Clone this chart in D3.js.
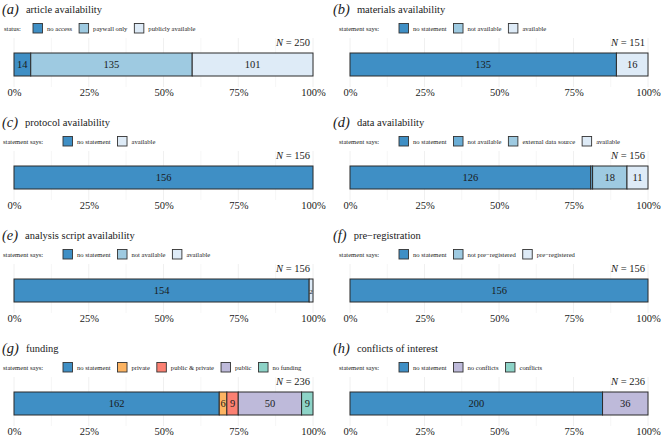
<!DOCTYPE html>
<html><head><meta charset="utf-8">
<script src="https://cdn.jsdelivr.net/npm/d3@7"></script>
<style>body{margin:0;background:#fff}svg{display:block}</style>
</head><body><svg id="c" width="662" height="436"></svg>
<script>
// ---- data ----
const panelLetters = ["a","b","c","d","e","f","g","h"];
const panelTitles = ["article availability","materials availability","protocol availability","data availability","analysis script availability","pre\u2212registration","funding","conflicts of interest"];
const legendTitles = ["status:","statement says:","statement says:","statement says:","statement says:","statement says:","statement says:","statement says:"];
const articleCats = ["no access","paywall only","publicly available"];
const articleVals = [14,135,101];
const materialsCats = ["no statement","not available","available"];
const materialsVals = [135,0,16];
const protocolCats = ["no statement","available"];
const protocolVals = [156,0];
const dataCats = ["no statement","not available","external data source","available"];
const dataVals = [126,1,18,11];
const scriptCats = ["no statement","not available","available"];
const scriptVals = [154,0,2];
const preregCats = ["no statement","not pre\u2212registered","pre\u2212registered"];
const preregVals = [156,0,0];
const fundingCats = ["no statement","private","public & private","public","no funding"];
const fundingVals = [162,6,9,50,9];
const coiCats = ["no statement","no conflicts","conflicts"];
const coiVals = [200,36,0];
const axisTicks = [0,0.25,0.5,0.75,1];
const gridTicks = [0,0.125,0.25,0.375,0.5,0.625,0.75,0.875,1];

// ---- colours ----
const B1="#3f8fc5",B2="#6baed6",B3="#9ecae1",B4="#deebf7";
const palettes = [
  [B1,B3,B4],[B1,B3,B4],[B1,B4],[B1,B2,B3,B4],[B1,B3,B4],[B1,B3,B4],
  [B1,"#fdb462","#fb8072","#bebada","#8dd3c7"],[B1,"#bebada","#8dd3c7"]
];
const allCats=[articleCats,materialsCats,protocolCats,dataCats,scriptCats,preregCats,fundingCats,coiCats];
const allVals=[articleVals,materialsVals,protocolVals,dataVals,scriptVals,preregVals,fundingVals,coiVals];

const FONT="Liberation Serif";
const svg=d3.select("#c").style("font-family",FONT);
const colOrigin=[0,331], barLeft=[14,350], barRight=[313,648];
const rowH=113;

panelLetters.forEach((L,i)=>{
  const col=i%2,row=Math.floor(i/2);
  const g=svg.append("g").attr("transform",`translate(0,${row*rowH})`);
  const cats=allCats[i],vals=allVals[i],cols=palettes[i];
  const total=d3.sum(vals);
  const x=d3.scaleLinear().domain([0,1]).range([barLeft[col],barRight[col]]);
  const y=d3.scaleBand().domain(["bar"]).range([53,76]);
  const color=d3.scaleOrdinal().domain(cats).range(cols);
  const txt=(sel)=>sel.style("font-family",FONT).attr("fill","#1a1a1a");

  // grid
  g.selectAll("line.grid").data(gridTicks).join("line")
    .attr("x1",d=>x(d)).attr("x2",d=>x(d)).attr("y1",38).attr("y2",87)
    .attr("stroke",(d,k)=>k%2?"#f4f4f4":"#ececec").attr("stroke-width",0.8);

  // title
  const lt=g.append("text").attr("x",colOrigin[col]+2).attr("y",14).call(txt)
    .style("font-size","14.5px").style("font-style","italic").text("("+L+")");
  const lw=lt.node().getComputedTextLength();
  g.append("text").attr("x",colOrigin[col]+2+lw+7).attr("y",13).call(txt)
    .style("font-size","10.5px").text(panelTitles[i]);

  // legend
  g.append("text").attr("x",barLeft[col]+(i===0?-10:-11)).attr("y",31).call(txt)
    .style("font-size","6.6px").text(legendTitles[i]);
  let lx=barLeft[col]+(i===0?19:49);
  cats.forEach(c=>{
    g.append("rect").attr("x",lx).attr("y",23.5).attr("width",9.5).attr("height",9.5)
      .attr("fill",color(c)).attr("stroke","#333").attr("stroke-width",0.9);
    const t=g.append("text").attr("x",lx+14).attr("y",31).call(txt).style("font-size","6.6px").text(c);
    lx+=14+t.node().getComputedTextLength()+7;
  });

  // N label
  const nt=g.append("text").attr("x",barRight[col]-3).attr("y",46).attr("text-anchor","end").call(txt)
    .style("font-size","10.5px");
  nt.append("tspan").style("font-style","italic").text("N");
  nt.append("tspan").text(" = "+total);

  // stacked bar
  let cum=0;
  const segs=cats.map((c,k)=>{const s={c,v:vals[k],x0:cum/total};cum+=vals[k];s.x1=cum/total;return s;}).filter(s=>s.v>0);
  g.selectAll("rect.seg").data(segs).join("rect")
    .attr("x",d=>x(d.x0)).attr("width",d=>x(d.x1)-x(d.x0))
    .attr("y",y("bar")).attr("height",y.bandwidth())
    .attr("fill",d=>color(d.c)).attr("stroke","#2b2b2b").attr("stroke-width",1);
  g.selectAll("text.seg").data(segs.filter(d=>d.v>1)).join("text")
    .attr("x",d=>(x(d.x0)+x(d.x1))/2).attr("y",y("bar")+y.bandwidth()/2+3.7)
    .attr("text-anchor","middle").call(txt)
    .style("font-size",d=>(x(d.x1)-x(d.x0))<6?"7px":"10.5px").text(d=>d.v);

  // axis
  const ax=d3.axisBottom(x).tickValues(axisTicks).tickFormat(d3.format(".0%")).tickSize(0).tickPadding(0);
  const axg=g.append("g").attr("transform","translate(0,89)").call(ax)
    .attr("font-family",null).attr("font-size",null);
  axg.select(".domain").remove();
  axg.selectAll("text").attr("dy",0).attr("y",7).call(txt).style("font-size","10.5px");
});
</script></body></html>
